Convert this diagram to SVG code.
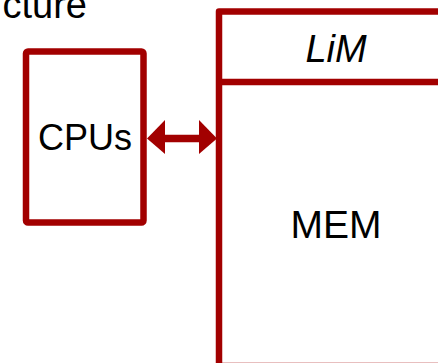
<svg xmlns="http://www.w3.org/2000/svg" width="438" height="363" viewBox="0 0 438 363">
<style>
.box{fill:#fff;stroke:#a20000;stroke-width:6.5;stroke-linejoin:round}
.t{font-family:"Liberation Sans",Arial,sans-serif;fill:#000}
</style>
<rect width="438" height="363" fill="#fff"/>
<text class="t" x="87" y="18" font-size="38" text-anchor="end">cture</text>
<g id="mem">
<rect class="box" x="219" y="11.5" width="260" height="354.5" stroke-linejoin="miter"/>
<line x1="219" y1="82" x2="440" y2="82" stroke="#a20000" stroke-width="6.5"/>
<text class="t" x="336" y="62" font-size="38" font-style="italic" text-anchor="middle">LiM</text>
<text class="t" x="336" y="238" font-size="39" text-anchor="middle">MEM</text>
</g>
<g id="cpus">
<rect class="box" x="26" y="51.5" width="117.5" height="171" rx="2"/>
<text class="t" x="85" y="150" font-size="36" text-anchor="middle">CPUs</text>
</g>
<g id="connectors">
<line x1="160" y1="138.5" x2="204" y2="138.5" stroke="#a20000" stroke-width="7.5"/>
<polygon points="147,138.5 165,120 165,154" fill="#a20000"/>
<polygon points="217,138.5 199,120 199,154" fill="#a20000"/>
</g>
</svg>
